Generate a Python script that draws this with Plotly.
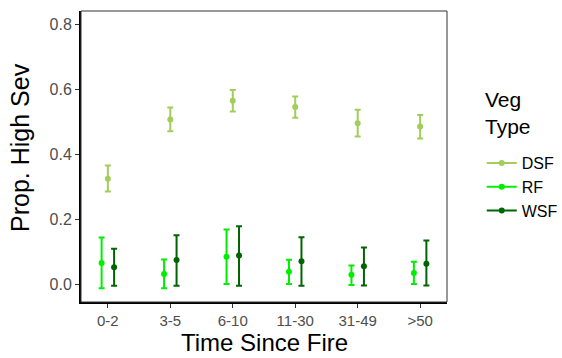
import plotly.graph_objects as go

categories = ["0-2", "3-5", "6-10", "11-30", "31-49", ">50"]

dsf_mean = [0.324, 0.506, 0.564, 0.545, 0.495, 0.485]
dsf_hi = [0.365, 0.543, 0.597, 0.577, 0.536, 0.520]
dsf_lo = [0.285, 0.470, 0.531, 0.512, 0.454, 0.448]

rf_mean = [0.065, 0.031, 0.084, 0.038, 0.029, 0.034]
rf_hi = [0.143, 0.076, 0.168, 0.075, 0.057, 0.069]
rf_lo = [-0.013, -0.013, 0.000, 0.000, -0.003, 0.000]

wsf_mean = [0.052, 0.074, 0.088, 0.070, 0.055, 0.063]
wsf_hi = [0.109, 0.150, 0.178, 0.144, 0.113, 0.134]
wsf_lo = [-0.005, -0.005, -0.005, -0.005, -0.004, -0.004]

series = [
    ("DSF", dsf_mean, dsf_hi, dsf_lo, "#A2CD5A", 0.0),
    ("RF", rf_mean, rf_hi, rf_lo, "#00EE00", -0.1),
    ("WSF", wsf_mean, wsf_hi, wsf_lo, "#006400", 0.1),
]

W, H = 562, 358
L, R, T, B = 81, 115, 11, 56
PW, PH = W - L - R, H - T - B

fig = go.Figure()
for name, m, hi, lo, col, off in series:
    xs = [i + off for i in range(len(categories))]
    fig.add_trace(go.Scatter(
        x=xs, y=m, mode="markers", showlegend=False,
        marker=dict(color=col, size=6),
        error_y=dict(type="data", symmetric=False,
                     array=[h - v for h, v in zip(hi, m)],
                     arrayminus=[v - l for v, l in zip(m, lo)],
                     color=col, thickness=2, width=3),
    ))
for name, m, hi, lo, col, off in series:
    fig.add_trace(go.Scatter(
        x=[None], y=[None], mode="lines+markers", name=name,
        line=dict(color=col, width=2), marker=dict(color=col, size=6),
    ))

fig.add_shape(type="rect", xref="paper", yref="paper", x0=0, y0=0, x1=1, y1=1,
              line=dict(color="#333333", width=1))

# legend title
fig.add_annotation(
    text="Veg<br>Type", xref="paper", yref="paper",
    x=(483 - L) / PW, y=(H - B - 86) / PH, xanchor="left", yanchor="top",
    showarrow=False, align="left", font=dict(size=21, color="black"),
)
# axis titles
fig.add_annotation(
    text="Time Since Fire", xref="paper", yref="paper",
    x=0.5, y=(H - B - 358) / PH, xanchor="center", yanchor="bottom",
    showarrow=False, font=dict(size=24, color="black"),
)
fig.add_annotation(
    text="Prop. High Sev", xref="paper", yref="paper", textangle=-90,
    x=(20 - L) / PW, y=(H - B - 148) / PH, xanchor="center", yanchor="middle",
    showarrow=False, font=dict(size=25, color="black"),
)

fig.update_layout(
    width=W, height=H,
    margin=dict(l=L, r=R, t=T, b=B, autoexpand=False),
    paper_bgcolor="white", plot_bgcolor="white",
    font=dict(family="Liberation Sans, Arial, sans-serif", color="black"),
    xaxis=dict(
        range=[-0.43, 5.43], tickmode="array",
        tickvals=list(range(len(categories))), ticktext=categories,
        showgrid=False, zeroline=False, automargin=False,
        showline=True, linecolor="black", linewidth=2,
        ticks="outside", ticklen=4, tickcolor="#333333", tickwidth=1,
        tickfont=dict(size=15, color="#4D4D4D"),
    ),
    yaxis=dict(
        range=[-0.055, 0.84], tickvals=[0, 0.2, 0.4, 0.6, 0.8],
        ticktext=["0.0", "0.2", "0.4", "0.6", "0.8"],
        showgrid=False, zeroline=False, automargin=False,
        showline=True, linecolor="black", linewidth=2,
        ticks="outside", ticklen=4, tickcolor="#333333", tickwidth=1,
        tickfont=dict(size=16, color="#4D4D4D"),
    ),
    legend=dict(
        x=1.095, y=(H - B - 146) / PH, xanchor="left", yanchor="top",
        font=dict(size=16, color="black"),
        tracegroupgap=0, itemwidth=30,
        bgcolor="rgba(0,0,0,0)",
    ),
)

fig.write_html("out.html")
